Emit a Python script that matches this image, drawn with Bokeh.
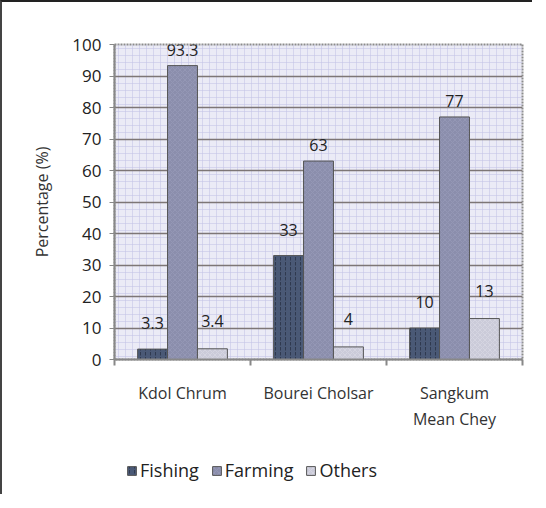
from bokeh.plotting import figure
from bokeh.layouts import column
from bokeh.models import (ColumnDataSource, LabelSet, Legend, LegendItem, FixedTicker,
                          BoxAnnotation)
from bokeh.transform import dodge
from bokeh.core.properties import value
from bokeh.embed import file_html
from bokeh.resources import INLINE

# ---- data ----
communes = ["Kdol Chrum", "Bourei Cholsar", "Sangkum\nMean Chey"]
fishing = [3.3, 33, 10]
farming = [93.3, 63, 77]
others = [3.4, 4, 13]
series_names = ["Fishing", "Farming", "Others"]
y_ticks = [0, 10, 20, 30, 40, 50, 60, 70, 80, 90, 100]

FONT = "Open Sans"
colors = ["#4a5976", "#8b8eac", "#cbcbd9"]
hatches = [":", "x", "x"]
hatch_colors = ["#1e2535", "#9a9dbb", "#dcdce6"]
offsets = [-0.22, 0.0, 0.22]
label_off = [20, 10, 22]

xi = list(range(len(communes)))
src = ColumnDataSource(dict(
    xi=xi,
    Fishing=fishing, Farming=farming, Others=others,
    Fishing_t=[f"{v:g}" for v in fishing],
    Farming_t=[f"{v:g}" for v in farming],
    Others_t=[f"{v:g}" for v in others],
))

p = figure(frame_width=408, frame_height=315, x_range=(-0.5, len(communes) - 0.5), y_range=(0, 100),
           output_backend="svg", toolbar_location=None,
           min_border_left=112, min_border_right=10, min_border_top=42, min_border_bottom=0)

p.background_fill_color = "#ebebf6"
p.border_fill_color = "white"
p.outline_line_color = "#8c8c8c"
p.outline_line_dash = "2 1"
p.outline_line_width = 2

bg = BoxAnnotation(fill_alpha=0, line_alpha=0, hatch_pattern="+", hatch_color="#c2c2e6",
                   hatch_scale=7, hatch_weight=1, hatch_alpha=0.55, level="image")
p.add_layout(bg)

# legend figure (swatches only; its legend renderers lie outside its visible range)
p2 = figure(width=530, height=62, output_backend="svg", toolbar_location=None,
            min_border=0, x_range=(0, 1), y_range=(0, 1))
p2.axis.visible = False
p2.grid.visible = False
p2.outline_line_color = None
p2.border_fill_color = "white"
p2.background_fill_color = "white"
swatch_src = ColumnDataSource(dict(x=[-5], top=[0]))

items = []
for name, col, off, hp, hc, lo in zip(series_names, colors, offsets, hatches, hatch_colors, label_off):
    style = dict(fill_color=col, line_color="#555555", line_width=1,
                 hatch_pattern=hp, hatch_color=hc, hatch_scale=5, hatch_alpha=0.6)
    p.vbar(x=dodge("xi", off, range=p.x_range), top=name, width=0.22, source=src, **style)
    r2 = p2.vbar(x="x", top="top", width=0.1, source=swatch_src, **style)
    items.append(LegendItem(label=name, renderers=[r2]))
    lbl = LabelSet(x=dodge("xi", off, range=p.x_range), y=name, text=name + "_t", source=src,
                   y_offset=lo, text_align="center", text_baseline="bottom",
                   text_font=value(FONT), text_font_size="16px", text_color="#222222")
    p.add_layout(lbl)

# axes
p.yaxis.ticker = FixedTicker(ticks=y_ticks)
p.yaxis.major_label_text_font = FONT
p.yaxis.major_label_text_font_size = "17px"
p.yaxis.major_label_text_color = "#222222"
p.yaxis.axis_label = "Percentage (%)"
p.yaxis.axis_label_text_font = FONT
p.yaxis.axis_label_text_font_size = "16px"
p.yaxis.axis_label_text_font_style = "normal"
p.yaxis.axis_label_text_color = "#333333"
p.yaxis.axis_label_standoff = 16
p.yaxis.axis_line_color = "#888888"
p.yaxis.axis_line_width = 2
p.yaxis.major_tick_line_color = "#888888"
p.yaxis.major_tick_out = 5
p.yaxis.major_tick_in = 0
p.yaxis.minor_tick_line_color = None
p.yaxis.major_label_standoff = 8

p.xaxis.ticker = FixedTicker(ticks=xi, minor_ticks=[i - 0.5 for i in xi] + [xi[-1] + 0.5])
p.xaxis.major_label_overrides = {i: c for i, c in zip(xi, communes)}
p.xaxis.major_tick_out = 0
p.xaxis.major_tick_in = 0
p.xaxis.minor_tick_out = 6
p.xaxis.minor_tick_in = 0
p.xaxis.minor_tick_line_color = "#888888"
p.xaxis.minor_tick_line_width = 2
p.xaxis.axis_line_color = "#888888"
p.xaxis.axis_line_width = 2
p.xaxis.major_label_text_font = FONT
p.xaxis.major_label_text_font_size = "16px"
p.xaxis.major_label_text_color = "#333333"
p.xaxis.major_label_standoff = 16

p.xgrid.grid_line_color = None
p.ygrid.ticker = FixedTicker(ticks=y_ticks)
p.ygrid.grid_line_color = "#7d7676"
p.ygrid.grid_line_width = 1.5

legend = Legend(items=items, orientation="horizontal", location=(12, 12),
                label_text_font=FONT, label_text_font_size="18px", label_text_color="#222222",
                glyph_width=11, glyph_height=11, spacing=12, label_standoff=3,
                border_line_color=None, background_fill_alpha=0, margin=0, padding=4)
p2.add_layout(legend)

lay = column(p, p2, spacing=0)
lay.styles = {"border-top": "2px solid #222", "border-left": "2px solid #444"}

open("out.html", "w").write(file_html(lay, INLINE))
